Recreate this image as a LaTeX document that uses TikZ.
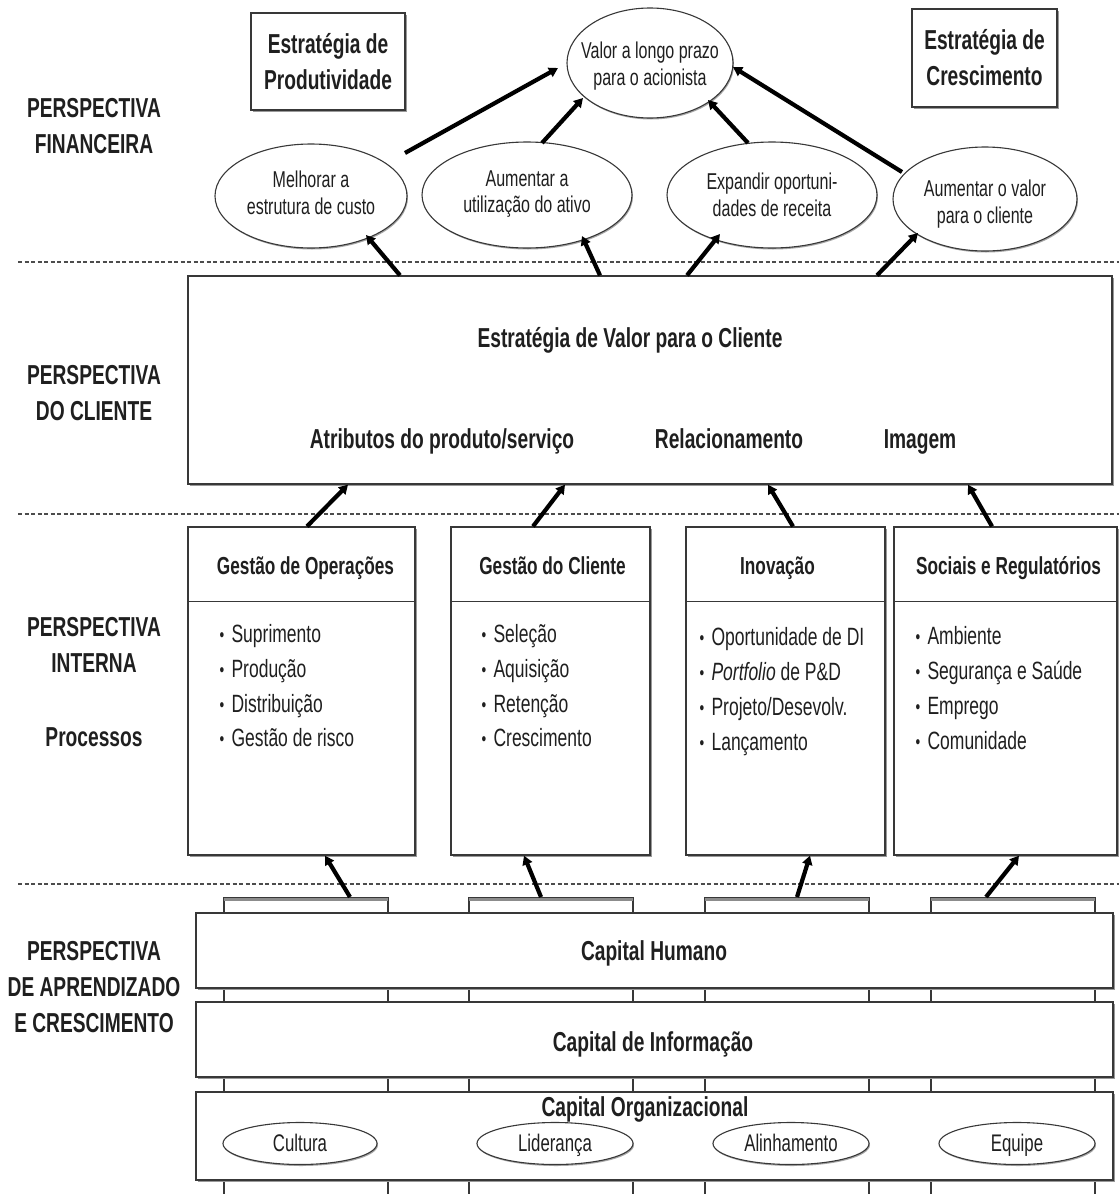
\documentclass[tikz,border=0pt]{standalone}
\usepackage{fontspec}
\setmainfont[FakeStretch=0.7]{Liberation Sans}
\usetikzlibrary{shapes.geometric,arrows.meta,calc,shadows}

\newcommand{\bulmark}{\makebox[12pt][l]{\raisebox{1pt}{\fontsize{19}{19}\selectfont\textbullet}}}

\begin{document}
\begin{tikzpicture}[x=1pt,y=-1pt,
  every node/.style={text=black!88},
  box/.style={draw=black!78, line width=1.3pt, fill=white, rectangle, inner sep=0pt},
  shbox/.style={box, drop shadow={shadow xshift=1.5pt, shadow yshift=-2pt, fill=black!40, opacity=1}},
  ell/.style={draw=black!78, line width=1.1pt, fill=white, ellipse, inner sep=0pt,
    drop shadow={shadow xshift=1pt, shadow yshift=-1.5pt, fill=black!35, opacity=1}},
  arr/.style={line width=4.2pt, black, -{Triangle[length=9pt,width=10pt]}},
  sep/.style={draw=black!70, line width=1.4pt, dash pattern=on 4pt off 2.5pt},
  persp/.style={font=\fontsize{27.4}{36}\selectfont\bfseries, align=center, inner sep=0pt},
  head/.style={font=\fontsize{27.4}{36}\selectfont\bfseries, align=center, inner sep=0pt, anchor=base},
  ptitle/.style={font=\fontsize{24.6}{28}\selectfont\bfseries, inner sep=0pt, anchor=base},
  etext/.style={font=\fontsize{22.9}{26.5}\selectfont, align=center, inner sep=0pt},
  ctext/.style={font=\fontsize{24}{26}\selectfont, inner sep=0pt, anchor=base},
  bul/.style={font=\fontsize{25}{28}\selectfont, inner sep=0pt, anchor=base west},
]
\useasboundingbox[fill=white] (0,0) rectangle (1119,1194);

% perspective separators
\draw[sep] (18,262) -- (1119,262);
\draw[sep] (18,514) -- (1119,514);
\draw[sep] (18,884) -- (1119,884);

% perspective labels
\node[persp] (lfin) at (94,126) {PERSPECTIVA\\FINANCEIRA};
\node[persp] (lcli) at (94,393.5) {PERSPECTIVA\\DO CLIENTE};
\node[persp] (lint) at (94,645) {PERSPECTIVA\\INTERNA};
\node[persp, anchor=base] (lproc) at (94,746.5) {Processos};
\node[persp] (lapr) at (94,987.5) {PERSPECTIVA\\DE APRENDIZADO\\E CRESCIMENTO};

% strategy boxes
\node[shbox, persp, minimum width=154pt, minimum height=97pt] (prod) at (328,61.5) {Estratégia de\\Produtividade};
\node[shbox, persp, minimum width=145pt, minimum height=98pt] (cresc) at (984.5,58) {Estratégia de\\Crescimento};

% financial objectives
\node[ell, minimum width=166pt, minimum height=110pt] (valor) at (650,63) {};
\node[etext] (valorT) at (650,66) {Valor a longo prazo\\para o acionista};
\node[ell, minimum width=192pt, minimum height=104pt] (mel) at (311,196) {};
\node[etext] (melT) at (311,193) {Melhorar a\\estrutura de custo};
\node[ell, minimum width=210pt, minimum height=106pt] (aum) at (527,195) {};
\node[etext] (aumT) at (527,194) {Aumentar a\\utilização do ativo};
\node[ell, minimum width=210pt, minimum height=106pt] (exp) at (772,195) {};
\node[etext] (expT) at (772,195) {Expandir oportuni-\\dades de receita};
\node[ell, minimum width=184pt, minimum height=104pt] (aumv) at (985,199) {};
\node[etext] (aumvT) at (985,204) {Aumentar o valor\\para o cliente};

% customer perspective
\node[shbox, minimum width=924pt, minimum height=208pt] (cust) at (650,380) {};
\node[head] (custT) at (630,347) {Estratégia de Valor para o Cliente};
\node[head] (attr) at (442,448) {Atributos do produto/serviço};
\node[head] (rel) at (729,448) {Relacionamento};
\node[head] (img) at (920,448) {Imagem};

% internal processes
\node[shbox, minimum width=227pt, minimum height=328pt] (ops) at (301.5,691) {};
\node[shbox, minimum width=199pt, minimum height=328pt] (cli) at (550.5,691) {};
\node[shbox, minimum width=199pt, minimum height=328pt] (ino) at (785.5,691) {};
\node[shbox, minimum width=223pt, minimum height=328pt] (soc) at (1005.5,691) {};
\foreach \b in {ops,cli,ino,soc}
  \draw[draw=black!78, line width=1.3pt] ($(\b.north west)+(0,75)$) -- ($(\b.north east)+(0,75)$);

\node[ptitle] (opsT) at ($(ops.north)+(4,48.5)$) {Gestão de Operações};
\node[ptitle] (cliT) at ($(cli.north)+(2,48.5)$) {Gestão do Cliente};
\node[ptitle] (inoT) at ($(ino.north)+(-8,48.5)$) {Inovação};
\node[ptitle] (socT) at ($(soc.north)+(3,48.5)$) {Sociais e Regulatórios};

\foreach \t [count=\i from 0] in {Suprimento,Produção,Distribuição,Gestão de risco}
  \node[bul] (ops-i\i) at ($(ops.north west)+(32,116.5+34.7*\i)$) {\bulmark\t};
\foreach \t [count=\i from 0] in {Seleção,Aquisição,Retenção,Crescimento}
  \node[bul] (cli-i\i) at ($(cli.north west)+(31,116.5+34.7*\i)$) {\bulmark\t};
\foreach \t [count=\i from 0] in {Oportunidade de DI,{\textit{Portfolio} de P\&D},Projeto/Desevolv.,Lançamento}
  \node[bul] (ino-i\i) at ($(ino.north west)+(14,119.5+35*\i)$) {\bulmark\t};
\foreach \t [count=\i from 0] in {Ambiente,Segurança e Saúde,Emprego,Comunidade}
  \node[bul] (soc-i\i) at ($(soc.north west)+(22,118.5+35*\i)$) {\bulmark\t};

% learning and growth: pillars behind the capital layers
\foreach \n/\x in {p1/306,p2/551,p3/787,p4/1013} {
  \node[box, minimum width=164pt, minimum height=302pt, anchor=north] (\n) at (\x,897) {};
  \draw[black!45, line width=2.4pt] ($(\n.north west)+(1,2.6)$) -- ($(\n.north east)+(-1,2.6)$);
}
\node[shbox, minimum width=917pt, minimum height=75pt] (capH) at (654.5,950.5) {};
\node[shbox, minimum width=917pt, minimum height=75pt] (capI) at (654.5,1039.5) {};
\node[shbox, minimum width=917pt, minimum height=88pt] (capO) at (654.5,1136) {};
\node[head] (capHT) at (654,960.5) {Capital Humano};
\node[head] (capIT) at (653,1051.5) {Capital de Informação};
\node[head] (capOT) at (645,1116.5) {Capital Organizacional};

\node[ell, minimum width=154pt, minimum height=42pt] (cul) at (300,1143.5) {};
\node[ell, minimum width=156pt, minimum height=42pt] (lid) at (555,1143.5) {};
\node[ell, minimum width=156pt, minimum height=42pt] (ali) at (791,1143.5) {};
\node[ell, minimum width=156pt, minimum height=42pt] (equ) at (1017,1143.5) {};
\node[ctext] (culT) at (300,1151.5) {Cultura};
\node[ctext] (lidT) at (555,1151.5) {Liderança};
\node[ctext] (aliT) at (791,1151.5) {Alinhamento};
\node[ctext] (equT) at (1017,1151.5) {Equipe};

% cause-and-effect links
\draw[arr] ($(cust.north)+(-250,0)$) -- ($(mel)+(55,39)$);
\draw[arr] ($(cust.north)+(-50,0)$) -- ($(aum)+(55,41)$);
\draw[arr] ($(cust.north)+(37,0)$) -- ($(exp)+(-52,39)$);
\draw[arr] ($(cust.north)+(227,0)$) -- ($(aumv)+(-67,34)$);

\draw[arr] ($(mel)+(94,-43)$) -- ($(valor)+(-92,5)$);
\draw[arr] ($(aum)+(15,-52)$) -- ($(valor)+(-67,35)$);
\draw[arr] ($(exp)+(-24,-52)$) -- ($(valor)+(58,37)$);
\draw[arr] ($(aumv)+(-83,-27)$) -- ($(valor)+(83,4)$);

\draw[arr] ($(ops.north)+(5.5,0)$) -- ($(cust.south)+(-302,0)$);
\draw[arr] ($(cli.north)+(-17.5,0)$) -- ($(cust.south)+(-85,0)$);
\draw[arr] ($(ino.north)+(7.5,0)$) -- ($(cust.south)+(118,0)$);
\draw[arr] ($(soc.north)+(-13.5,0)$) -- ($(cust.south)+(318,0)$);

\draw[arr] ($(p1.north)+(44,0)$) -- ($(ops.south)+(23.5,0)$);
\draw[arr] ($(p2.north)+(-10,0)$) -- ($(cli.south)+(-26.5,0)$);
\draw[arr] ($(p3.north)+(10,0)$) -- ($(ino.south)+(24.5,0)$);
\draw[arr] ($(p4.north)+(-27,0)$) -- ($(soc.south)+(13.5,0)$);
\end{tikzpicture}
\end{document}
